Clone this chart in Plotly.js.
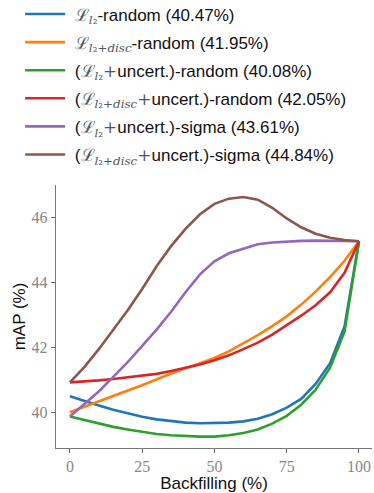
<!DOCTYPE html>
<html>
<head>
<meta charset="utf-8">
<script src="https://cdn.plot.ly/plotly-3.0.1.min.js"></script>
<style>
html,body{margin:0;padding:0;background:#fff;}
#chart{width:374px;height:493px;}
</style>
</head>
<body>
<div id="chart"></div>
<script>
var backfilling = [0,5,10,15,20,25,30,35,40,45,50,55,60,65,70,75,80,85,90,95,100];

var l2Random        = [40.50,40.35,40.22,40.09,39.97,39.87,39.79,39.73,39.69,39.67,39.67,39.69,39.73,39.81,39.95,40.15,40.42,40.88,41.52,42.65,45.27];
var l2discRandom    = [40.01,40.18,40.36,40.53,40.68,40.84,41.03,41.20,41.36,41.52,41.68,41.88,42.12,42.38,42.66,42.96,43.32,43.72,44.17,44.67,45.27];
var l2UncRandom     = [39.88,39.77,39.66,39.56,39.48,39.41,39.34,39.30,39.27,39.26,39.26,39.30,39.37,39.48,39.66,39.90,40.24,40.70,41.38,42.49,45.27];
var l2discUncRandom = [40.93,40.95,40.99,41.03,41.08,41.13,41.19,41.28,41.38,41.48,41.61,41.76,41.95,42.15,42.40,42.68,42.98,43.30,43.70,44.30,45.27];
var l2UncSigma      = [39.88,40.25,40.65,41.10,41.55,42.05,42.55,43.10,43.70,44.25,44.65,44.90,45.05,45.18,45.23,45.26,45.28,45.29,45.29,45.28,45.27];
var l2discUncSigma  = [40.93,41.40,41.95,42.55,43.15,43.80,44.50,45.12,45.65,46.10,46.42,46.58,46.63,46.55,46.30,45.97,45.70,45.50,45.38,45.31,45.27];

var M = function(s){return '<span style="font-family:\'DejaVu Serif\';color:#555">'+s+'</span>';};
var L2 = M('ℒ<sub><i>l</i>₂</sub>');
var L2d = M('ℒ<sub><i>l</i>₂+<i>disc</i></sub>');
var PLUS = M('+');
var SP = '\u00a0';

var seriesNames = [
  SP + L2 + '-random (40.47%)',
  SP + L2d + '-random (41.95%)',
  SP + '(' + L2 + PLUS + 'uncert.)-random (40.08%)',
  SP + '(' + L2d + PLUS + 'uncert.)-random (42.05%)',
  SP + '(' + L2 + PLUS + 'uncert.)-sigma (43.61%)',
  SP + '(' + L2d + PLUS + 'uncert.)-sigma (44.84%)'
];
var seriesValues = [l2Random, l2discRandom, l2UncRandom, l2discUncRandom, l2UncSigma, l2discUncSigma];
var colors = ['#1f77b4','#ff7f0e','#2ca02c','#d62728','#9467bd','#8c564b'];

var traces = seriesValues.map(function(v,i){
  return {x: backfilling, y: v, type:'scatter', mode:'lines', name: seriesNames[i],
    legendgroup:'g'+i, line:{color:colors[i], width:2.6}};
});

var tickFont = {family:'Liberation Serif, serif', size:16, color:'#888'};
var layout = {
  width:374, height:493,
  margin:{l:56, r:2, t:185, b:45, autoexpand:false},
  paper_bgcolor:'#fff', plot_bgcolor:'#fff',
  showlegend:true,
  legend:{x:-0.1135, xanchor:'left', y:1.717, yanchor:'top', bgcolor:'rgba(0,0,0,0)',
    font:{family:'Liberation Sans, sans-serif', size:17, color:'#111'},
    tracegroupgap:3, itemwidth:40},
  xaxis:{range:[-4.8,104.5], tickvals:[0,25,50,75,100], ticktext:['0','25','50','75','100'],
    showgrid:false, zeroline:false, showline:true, linecolor:'#777', linewidth:1.2,
    ticks:'outside', ticklen:4, tickcolor:'#666', tickfont:tickFont,
    title:{text:'Backfilling (%)', font:{family:'Liberation Sans, sans-serif', size:17, color:'#111'}, standoff:3}},
  yaxis:{range:[38.91,47.0], tickvals:[40,42,44,46], ticktext:['40','42','44','46'],
    showgrid:false, zeroline:false, showline:true, linecolor:'#777', linewidth:1.2,
    ticks:'outside', ticklen:4, tickcolor:'#666', tickfont:tickFont,
    title:{text:'mAP (%)', font:{family:'Liberation Sans, sans-serif', size:17, color:'#111'}, standoff:1}}
};
Plotly.newPlot('chart', traces, layout, {displayModeBar:false, staticPlot:true});
</script>
</body>
</html>
